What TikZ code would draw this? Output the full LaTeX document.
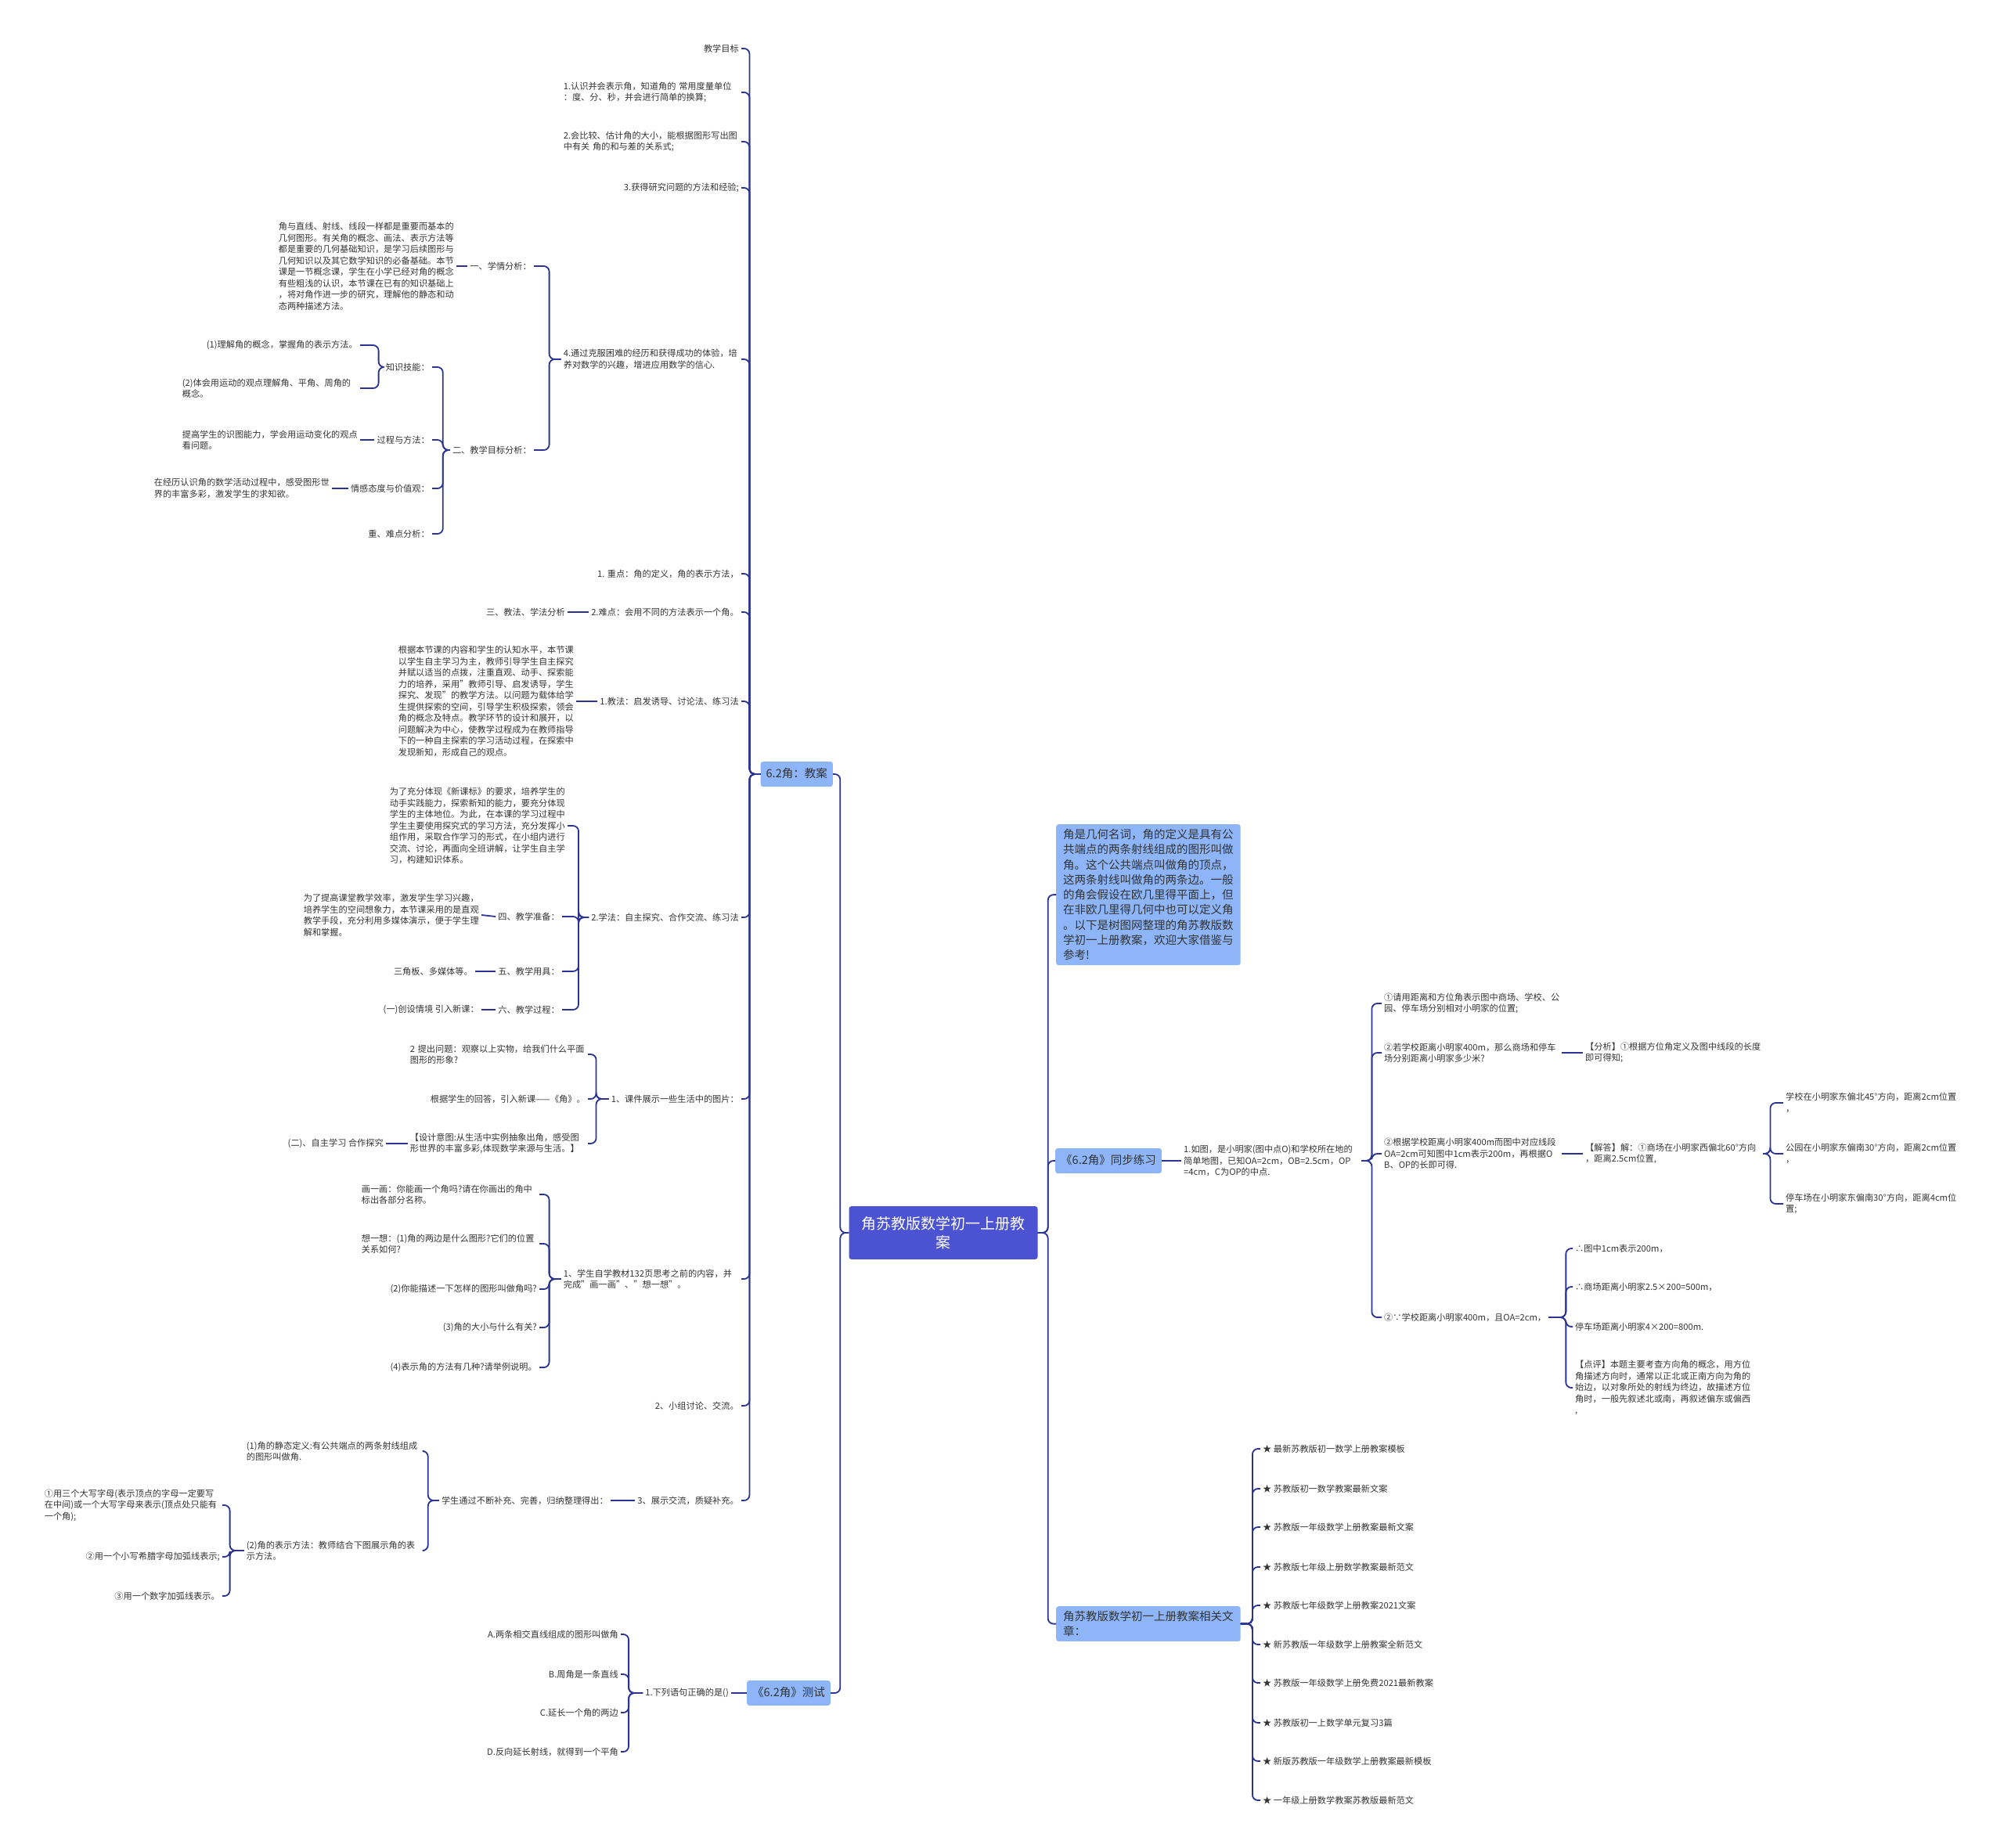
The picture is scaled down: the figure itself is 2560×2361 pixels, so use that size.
\documentclass[tikz,border=0pt]{standalone}
\usepackage{fontspec}
\setmainfont{Noto Sans CJK SC}
\definecolor{rootblue}{HTML}{4B53D3}
\definecolor{topicblue}{HTML}{8DB5F8}
\definecolor{linkblue}{HTML}{2B3490}
\definecolor{txtgray}{HTML}{333333}

\begin{document}
\begin{tikzpicture}[x=1pt, y=-1pt,
    txt/.style={font=\fontsize{11.2}{14.5}\selectfont, text=txtgray, align=left, inner sep=3pt},
    para/.style={txt, text width=224pt},
    topic/.style={fill=topicblue, rounded corners=3pt, font=\fontsize{14.5}{19}\selectfont, text=txtgray, inner xsep=7pt, inner ysep=9pt, text height=11pt, text depth=3pt},
    intro/.style={fill=topicblue, rounded corners=3pt, font=\fontsize{14.5}{19.3}\selectfont, text=txtgray, align=left, inner xsep=9pt, inner ysep=6pt},
    root/.style={fill=rootblue, rounded corners=3pt, font=\fontsize{19}{24}\selectfont, text=white, align=center, inner xsep=16pt, inner ysep=13pt},
    link/.style={draw=linkblue, line width=1.8pt, rounded corners=7pt}]
  \useasboundingbox (0,0) rectangle (2560,2361);

  % centre
  \node[root] (root) at (1205,1575) {角苏教版数学初一上册教\\案};

  % left: the lesson plan
  \node[topic, anchor=east] (jiaoan) at (1064,989) {6.2角：教案};
  \node[topic, anchor=east] (ceshi) at (1061,2163) {《6.2角》测试};
  \draw[link] (root.west) -- ++(-11,0) |- (jiaoan.east);
  \draw[link] (root.west) -- ++(-11,0) |- (ceshi.east);

  \node[txt, anchor=east] (m1) at (947,62) {教学目标};
  \node[para, anchor=east] (m2) at (947,118) {1.认识并会表示角，知道角的 常用度量单位\\：度、分、秒，并会进行简单的换算;};
  \node[para, anchor=east] (m3) at (947,181) {2.会比较、估计角的大小，能根据图形写出图\\中有关 角的和与差的关系式;};
  \node[txt, anchor=east] (m4) at (947,240) {3.获得研究问题的方法和经验;};
  \node[para, anchor=east] (m5) at (947,459) {4.通过克服困难的经历和获得成功的体验，培\\养对数学的兴趣，增进应用数学的信心.};
  \node[txt, anchor=east] (m6) at (947,733) {1. 重点：角的定义，角的表示方法，};
  \node[txt, anchor=east] (m7) at (947,782) {2.难点：会用不同的方法表示一个角。};
  \node[txt, anchor=east] (m8) at (947,896) {1.教法：启发诱导、讨论法、练习法};
  \node[txt, anchor=east] (m9) at (947,1172) {2.学法：自主探究、合作交流、练习法};
  \node[txt, anchor=east] (m10) at (947,1404) {1、课件展示一些生活中的图片：};
  \node[para, anchor=east] (m11) at (947,1634) {1、学生自学教材132页思考之前的内容，并\\完成"画一画"、"想一想"。};
  \node[txt, anchor=east] (m12) at (947,1796) {2、小组讨论、交流。};
  \node[txt, anchor=east] (m13) at (947,1917) {3、展示交流，质疑补充。};
  \draw[link] (jiaoan.west) -- ++(-14,0) |- (m1.east);
  \draw[link] (jiaoan.west) -- ++(-14,0) |- (m2.east);
  \draw[link] (jiaoan.west) -- ++(-14,0) |- (m3.east);
  \draw[link] (jiaoan.west) -- ++(-14,0) |- (m4.east);
  \draw[link] (jiaoan.west) -- ++(-14,0) |- (m5.east);
  \draw[link] (jiaoan.west) -- ++(-14,0) |- (m6.east);
  \draw[link] (jiaoan.west) -- ++(-14,0) |- (m7.east);
  \draw[link] (jiaoan.west) -- ++(-14,0) |- (m8.east);
  \draw[link] (jiaoan.west) -- ++(-14,0) |- (m9.east);
  \draw[link] (jiaoan.west) -- ++(-14,0) |- (m10.east);
  \draw[link] (jiaoan.west) -- ++(-14,0) |- (m11.east);
  \draw[link] (jiaoan.west) -- ++(-14,0) |- (m12.east);
  \draw[link] (jiaoan.west) -- ++(-14,0) |- (m13.east);

  % analysis
  \node[txt, anchor=east] (xq) at (682,340) {一、学情分析：};
  \node[txt, anchor=east] (mb) at (682,575) {二、教学目标分析：};
  \draw[link] (m5.west) -- ++(-15,0) |- (xq.east);
  \draw[link] (m5.west) -- ++(-15,0) |- (mb.east);
  \node[para, anchor=east] (xqp) at (583,340) {角与直线、射线、线段一样都是重要而基本的\\
    几何图形。有关角的概念、画法、表示方法等\\
    都是重要的几何基础知识，是学习后续图形与\\
    几何知识以及其它数学知识的必备基础。本节\\
    课是一节概念课，学生在小学已经对角的概念\\
    有些粗浅的认识，本节课在已有的知识基础上\\
    ，将对角作进一步的研究，理解他的静态和动\\
    态两种描述方法。};
  \draw[link] (xq.west) -- (xqp.east);

  \node[txt, anchor=east] (zs) at (552,469) {知识技能：};
  \node[txt, anchor=east] (gc) at (552,562) {过程与方法：};
  \node[txt, anchor=east] (qg) at (552,624) {情感态度与价值观：};
  \node[txt, anchor=east] (zn) at (552,682) {重、难点分析：};
  \draw[link] (mb.west) -- ++(-9,0) |- (zs.east);
  \draw[link] (mb.west) -- ++(-9,0) |- (gc.east);
  \draw[link] (mb.west) -- ++(-9,0) |- (qg.east);
  \draw[link] (mb.west) -- ++(-9,0) |- (zn.east);
  \node[txt, anchor=east] (zs1) at (460,441) {(1)理解角的概念，掌握角的表示方法。};
  \node[para, anchor=east] (zs2) at (460,496) {(2)体会用运动的观点理解角、平角、周角的\\概念。};
  \draw[link] (zs.west) -- ++(-6,0) |- (zs1.east);
  \draw[link] (zs.west) -- ++(-6,0) |- (zs2.east);
  \node[para, anchor=east] (gcp) at (460,562) {提高学生的识图能力，学会用运动变化的观点\\看问题。};
  \draw[link] (gc.west) -- (gcp.east);
  \node[para, anchor=east] (qgp) at (424,624) {在经历认识角的数学活动过程中，感受图形世\\界的丰富多彩，激发学生的求知欲。};
  \draw[link] (qg.west) -- (qgp.east);

  % methods
  \node[txt, anchor=east] (jf) at (725,782) {三、教法、学法分析};
  \draw[link] (m7.west) -- (jf.east);
  \node[para, anchor=east] (jfp) at (736,896) {根据本节课的内容和学生的认知水平，本节课\\
    以学生自主学习为主，教师引导学生自主探究\\
    并赋以适当的点拨，注重直观、动手、探索能\\
    力的培养，采用"教师引导、启发诱导，学生\\
    探究、发现"的教学方法。以问题为载体给学\\
    生提供探索的空间，引导学生积极探索，领会\\
    角的概念及特点。教学环节的设计和展开，以\\
    问题解决为中心，使教学过程成为在教师指导\\
    下的一种自主探索的学习活动过程，在探索中\\
    发现新知，形成自己的观点。};
  \draw[link] (m8.west) -- (jfp.east);

  \node[para, anchor=east] (xf) at (725,1055) {为了充分体现《新课标》的要求，培养学生的\\
    动手实践能力，探索新知的能力，要充分体现\\
    学生的主体地位。为此，在本课的学习过程中\\
    学生主要使用探究式的学习方法，充分发挥小\\
    组作用，采取合作学习的形式，在小组内进行\\
    交流、讨论，再面向全班讲解，让学生自主学\\
    习，构建知识体系。};
  \node[txt, anchor=east] (zb) at (718,1171) {四、教学准备：};
  \node[txt, anchor=east] (yj) at (718,1241) {五、教学用具：};
  \node[txt, anchor=east] (gcheng) at (718,1290) {六、教学过程：};
  \draw[link] (m9.west) -- ++(-13,0) |- (xf.east);
  \draw[link] (m9.west) -- ++(-13,0) |- (zb.east);
  \draw[link] (m9.west) -- ++(-13,0) |- (yj.east);
  \draw[link] (m9.west) -- ++(-13,0) |- (gcheng.east);
  \node[para, anchor=east] (zbp) at (615,1169) {为了提高课堂教学效率，激发学生学习兴趣，\\
    培养学生的空间想象力，本节课采用的是直观\\
    教学手段，充分利用多媒体演示，便于学生理\\
    解和掌握。};
  \draw[link] (zb.west) -- (zbp.east);
  \node[txt, anchor=east] (yjp) at (607,1241) {三角板、多媒体等。};
  \draw[link] (yj.west) -- (yjp.east);
  \node[txt, anchor=east] (gchp) at (615,1290) {(一)创设情境 引入新课：};
  \draw[link] (gcheng.west) -- (gchp.east);

  % lesson steps
  \node[para, anchor=east] (kj1) at (751,1347) {2 提出问题：观察以上实物，给我们什么平面\\图形的形象?};
  \node[txt, anchor=east] (kj2) at (751,1404) {根据学生的回答，引入新课——《角》。};
  \node[para, anchor=east] (kj3) at (751,1461) {【设计意图:从生活中实例抽象出角，感受图\\形世界的丰富多彩,体现数学来源与生活。】};
  \draw[link] (m10.west) -- ++(-16,0) |- (kj1.east);
  \draw[link] (m10.west) -- ++(-16,0) |- (kj2.east);
  \draw[link] (m10.west) -- ++(-16,0) |- (kj3.east);
  \node[txt, anchor=east] (zz) at (493,1461) {(二)、自主学习 合作探究};
  \draw[link] (kj3.west) -- (zz.east);

  \node[para, anchor=east] (zx1) at (689,1526) {画一画：你能画一个角吗?请在你画出的角中\\标出各部分名称。};
  \node[para, anchor=east] (zx2) at (689,1589) {想一想：(1)角的两边是什么图形?它们的位置\\关系如何?};
  \node[txt, anchor=east] (zx3) at (689,1647) {(2)你能描述一下怎样的图形叫做角吗?};
  \node[txt, anchor=east] (zx4) at (689,1696) {(3)角的大小与什么有关?};
  \node[txt, anchor=east] (zx5) at (689,1747) {(4)表示角的方法有几种?请举例说明。};
  \draw[link] (m11.west) -- ++(-15,0) |- (zx1.east);
  \draw[link] (m11.west) -- ++(-15,0) |- (zx2.east);
  \draw[link] (m11.west) -- ++(-15,0) |- (zx3.east);
  \draw[link] (m11.west) -- ++(-15,0) |- (zx4.east);
  \draw[link] (m11.west) -- ++(-15,0) |- (zx5.east);

  \node[txt, anchor=east] (gn) at (780,1917) {学生通过不断补充、完善，归纳整理得出：};
  \draw[link] (m13.west) -- (gn.east);
  \node[para, anchor=east] (dy1) at (542,1854) {(1)角的静态定义:有公共端点的两条射线组成\\的图形叫做角.};
  \node[para, anchor=east] (dy2) at (542,1981) {(2)角的表示方法：教师结合下图展示角的表\\示方法。};
  \draw[link] (gn.west) -- ++(-14,0) |- (dy1.east);
  \draw[link] (gn.west) -- ++(-14,0) |- (dy2.east);
  \node[para, anchor=east] (bs1) at (284,1923) {①用三个大写字母(表示顶点的字母一定要写\\在中间)或一个大写字母来表示(顶点处只能有\\一个角);};
  \node[txt, anchor=east] (bs2) at (284,1989) {②用一个小写希腊字母加弧线表示;};
  \node[txt, anchor=east] (bs3) at (284,2039) {③用一个数字加弧线表示。};
  \draw[link] (dy2.west) -- ++(-18,0) |- (bs1.east);
  \draw[link] (dy2.west) -- ++(-18,0) |- (bs2.east);
  \draw[link] (dy2.west) -- ++(-18,0) |- (bs3.east);

  % test
  \node[txt, anchor=east] (xl) at (934,2163) {1.下列语句正确的是()};
  \draw[link] (ceshi.west) -- (xl.east);
  \node[txt, anchor=east] (qa) at (793,2088) {A.两条相交直线组成的图形叫做角};
  \node[txt, anchor=east] (qb) at (793,2139) {B.周角是一条直线};
  \node[txt, anchor=east] (qc) at (793,2188) {C.延长一个角的两边};
  \node[txt, anchor=east] (qd) at (793,2238) {D.反向延长射线，就得到一个平角};
  \draw[link] (xl.west) -- ++(-18,0) |- (qa.east);
  \draw[link] (xl.west) -- ++(-18,0) |- (qb.east);
  \draw[link] (xl.west) -- ++(-18,0) |- (qc.east);
  \draw[link] (xl.west) -- ++(-18,0) |- (qd.east);

  % right: intro, exercise, related
  \node[intro, anchor=north west] (intro) at (1349,1053) {角是几何名词，角的定义是具有公\\
    共端点的两条射线组成的图形叫做\\
    角。这个公共端点叫做角的顶点，\\
    这两条射线叫做角的两条边。一般\\
    的角会假设在欧几里得平面上，但\\
    在非欧几里得几何中也可以定义角\\
    。以下是树图网整理的角苏教版数\\
    学初一上册教案，欢迎大家借鉴与\\
    参考!};
  \node[topic, anchor=west] (tongbu) at (1348,1483) {《6.2角》同步练习};
  \node[intro, anchor=north west] (xiangguan) at (1349,2052) {角苏教版数学初一上册教案相关文\\章：};
  \draw[link] (root.east) -- ++(13,0) |- (intro.west);
  \draw[link] (root.east) -- ++(13,0) |- (tongbu.west);
  \draw[link] (root.east) -- ++(13,0) |- (xiangguan.west);

  \node[para, anchor=west] (lt) at (1509,1483) {1.如图，是小明家(图中点O)和学校所在地的\\简单地图，已知OA=2cm，OB=2.5cm，OP\\=4cm，C为OP的中点.};
  \draw[link] (tongbu.east) -- (lt.west);
  \node[para, anchor=west] (wt1) at (1765,1282) {①请用距离和方位角表示图中商场、学校、公\\园、停车场分别相对小明家的位置;};
  \node[para, anchor=west] (wt2) at (1765,1345) {②若学校距离小明家400m，那么商场和停车\\场分别距离小明家多少米?};
  \node[para, anchor=west] (wt3) at (1765,1474) {②根据学校距离小明家400m而图中对应线段\\OA=2cm可知图中1cm表示200m，再根据O\\B、OP的长即可得.};
  \node[txt, anchor=west] (wt4) at (1765,1683) {②∵学校距离小明家400m，且OA=2cm，};
  \draw[link] (lt.east) -- ++(13,0) |- (wt1.west);
  \draw[link] (lt.east) -- ++(13,0) |- (wt2.west);
  \draw[link] (lt.east) -- ++(13,0) |- (wt3.west);
  \draw[link] (lt.east) -- ++(13,0) |- (wt4.west);
  \node[para, anchor=west] (fx) at (2022,1345) {【分析】①根据方位角定义及图中线段的长度\\即可得知;};
  \draw[link] (wt2.east) -- (fx.west);
  \node[para, anchor=west] (jd) at (2022,1474) {【解答】解：①商场在小明家西偏北60°方向\\，距离2.5cm位置,};
  \draw[link] (wt3.east) -- (jd.west);
  \node[para, anchor=west] (jd1) at (2278,1409) {学校在小明家东偏北45°方向，距离2cm位置\\，};
  \node[para, anchor=west] (jd2) at (2278,1474) {公园在小明家东偏南30°方向，距离2cm位置\\，};
  \node[para, anchor=west] (jd3) at (2278,1538) {停车场在小明家东偏南30°方向，距离4cm位\\置;};
  \draw[link] (jd.east) -- ++(9,0) |- (jd1.west);
  \draw[link] (jd.east) -- ++(9,0) |- (jd2.west);
  \draw[link] (jd.east) -- ++(9,0) |- (jd3.west);
  \node[txt, anchor=west] (yy1) at (2009,1595) {∴图中1cm表示200m，};
  \node[txt, anchor=west] (yy2) at (2009,1644) {∴商场距离小明家2.5×200=500m，};
  \node[txt, anchor=west] (yy3) at (2009,1695) {停车场距离小明家4×200=800m.};
  \node[para, anchor=west] (yy4) at (2009,1773) {【点评】本题主要考查方向角的概念，用方位\\
    角描述方向时，通常以正北或正南方向为角的\\
    始边，以对象所处的射线为终边，故描述方位\\
    角时，一般先叙述北或南，再叙述偏东或偏西\\
    ,};
  \draw[link] (wt4.east) -- ++(22,0) |- (yy1.west);
  \draw[link] (wt4.east) -- ++(22,0) |- (yy2.west);
  \draw[link] (wt4.east) -- ++(22,0) |- (yy3.west);
  \draw[link] (wt4.east) -- ++(22,0) |- (yy4.west);

  \node[txt, anchor=west] (wz1) at (1610,1851) {★ 最新苏教版初一数学上册教案模板};
  \node[txt, anchor=west] (wz2) at (1610,1902) {★ 苏教版初一数学教案最新文案};
  \node[txt, anchor=west] (wz3) at (1610,1951) {★ 苏教版一年级数学上册教案最新文案};
  \node[txt, anchor=west] (wz4) at (1610,2002) {★ 苏教版七年级上册数学教案最新范文};
  \node[txt, anchor=west] (wz5) at (1610,2051) {★ 苏教版七年级数学上册教案2021文案};
  \node[txt, anchor=west] (wz6) at (1610,2101) {★ 新苏教版一年级数学上册教案全新范文};
  \node[txt, anchor=west] (wz7) at (1610,2150) {★ 苏教版一年级数学上册免费2021最新教案};
  \node[txt, anchor=west] (wz8) at (1610,2201) {★ 苏教版初一上数学单元复习3篇};
  \node[txt, anchor=west] (wz9) at (1610,2250) {★ 新版苏教版一年级数学上册教案最新模板};
  \node[txt, anchor=west] (wz10) at (1610,2300) {★ 一年级上册数学教案苏教版最新范文};
  \draw[link] (xiangguan.east) -- ++(15,0) |- (wz1.west);
  \draw[link] (xiangguan.east) -- ++(15,0) |- (wz2.west);
  \draw[link] (xiangguan.east) -- ++(15,0) |- (wz3.west);
  \draw[link] (xiangguan.east) -- ++(15,0) |- (wz4.west);
  \draw[link] (xiangguan.east) -- ++(15,0) |- (wz5.west);
  \draw[link] (xiangguan.east) -- ++(15,0) |- (wz6.west);
  \draw[link] (xiangguan.east) -- ++(15,0) |- (wz7.west);
  \draw[link] (xiangguan.east) -- ++(15,0) |- (wz8.west);
  \draw[link] (xiangguan.east) -- ++(15,0) |- (wz9.west);
  \draw[link] (xiangguan.east) -- ++(15,0) |- (wz10.west);
\end{tikzpicture}
\end{document}
